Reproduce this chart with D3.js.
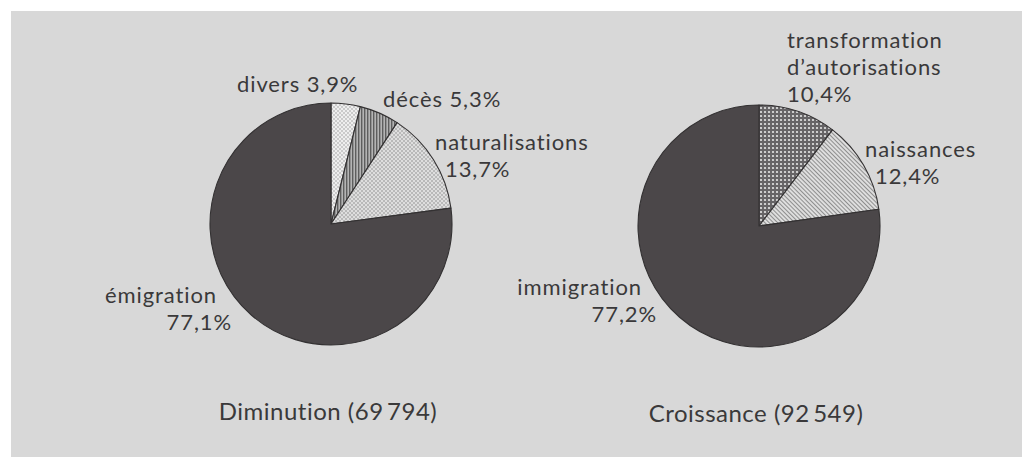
<!DOCTYPE html>
<html>
<head>
<meta charset="utf-8">
<script src="https://cdn.jsdelivr.net/npm/d3@7"></script>
<style>
  html, body { margin: 0; padding: 0; background: #ffffff; }
  svg { display: block; }
  text { font-family: Lato, "Open Sans", sans-serif; fill: #3a393a; font-variant-ligatures: none; font-feature-settings: "liga" 0; }
</style>
</head>
<body>
<svg id="chart" width="1022" height="457"></svg>
<script>
// Foreign population change: decrease vs. increase, share of each component (%)
const diminutionCategories = ["divers", "décès", "naturalisations", "émigration"];
const diminutionValues = [3.9, 5.3, 13.7, 77.1];
const diminutionLabels = [["divers 3,9%"], ["décès 5,3%"], ["naturalisations", "13,7%"], ["émigration", "77,1%"]];
const diminutionTitle = "Diminution (69\u2009794)";

const croissanceCategories = ["transformation d’autorisations", "naissances", "immigration"];
const croissanceValues = [10.4, 12.4, 77.2];
const croissanceLabels = [["transformation", "d’autorisations", "10,4%"], ["naissances", "12,4%"], ["immigration", "77,2%"]];
const croissanceTitle = "Croissance (92\u2009549)";

// fill style per slice (pattern ids defined below)
const diminutionFills = ["url(#dots-sparse)", "url(#vlines)", "url(#dots-fine)", "#4b4749"];
const croissanceFills = ["url(#screen-dark)", "url(#diag)", "#4b4749"];

// label placement: [x, y, anchor] for the first line
const diminutionLabelPos = [[237, 92, "start"], [383, 107, "start"], [435, 150, "start"], [217, 303, "end"]];
const croissanceLabelPos = [[787, 48, "start"], [865, 157, "start"], [642, 295, "end"]];

const svg = d3.select("#chart");

// scanned-page grey panel
svg.append("rect").attr("x", 11).attr("y", 11).attr("width", 1011).attr("height", 446).attr("fill", "#d8d8d8");

// hatching / screen patterns
const defs = svg.append("defs");
{
  const p = defs.append("pattern").attr("id", "dots-sparse").attr("patternUnits", "userSpaceOnUse").attr("width", 4).attr("height", 4);
  p.append("rect").attr("width", 4).attr("height", 4).attr("fill", "#eeeeee");
  p.append("circle").attr("cx", 1).attr("cy", 1).attr("r", 0.7).attr("fill", "#8c8c8c");
  p.append("circle").attr("cx", 3).attr("cy", 3).attr("r", 0.7).attr("fill", "#8c8c8c");
}
{
  const p = defs.append("pattern").attr("id", "vlines").attr("patternUnits", "userSpaceOnUse").attr("width", 3).attr("height", 3);
  p.append("rect").attr("width", 3).attr("height", 3).attr("fill", "#b4b4b4");
  p.append("rect").attr("x", 0).attr("width", 1.4).attr("height", 3).attr("fill", "#5e5e5e");
}
{
  const p = defs.append("pattern").attr("id", "dots-fine").attr("patternUnits", "userSpaceOnUse").attr("width", 4).attr("height", 4);
  p.append("rect").attr("width", 4).attr("height", 4).attr("fill", "#dedede");
  p.append("circle").attr("cx", 1).attr("cy", 1).attr("r", 0.8).attr("fill", "#8a8a8a");
  p.append("circle").attr("cx", 3).attr("cy", 3).attr("r", 0.8).attr("fill", "#8a8a8a");
}
{
  const p = defs.append("pattern").attr("id", "screen-dark").attr("patternUnits", "userSpaceOnUse").attr("width", 4).attr("height", 4);
  p.append("rect").attr("width", 4).attr("height", 4).attr("fill", "#666466");
  p.append("circle").attr("cx", 2).attr("cy", 2).attr("r", 1.1).attr("fill", "#e6e6e6");
}
{
  const p = defs.append("pattern").attr("id", "diag").attr("patternUnits", "userSpaceOnUse").attr("width", 3).attr("height", 3)
    .attr("patternTransform", "rotate(-45)");
  p.append("rect").attr("width", 3).attr("height", 3).attr("fill", "#dedede");
  p.append("rect").attr("width", 1).attr("height", 3).attr("fill", "#8e8e8e");
}

const radius = 121;
const arc = d3.arc().innerRadius(0).outerRadius(radius);
const pie = d3.pie().sort(null).value(d => d.value).startAngle(0).endAngle(2 * Math.PI);

function drawPie(cx, cy, cats, vals, fills, labels, labelPos, title, titleY) {
  const data = cats.map((c, i) => ({ cat: c, value: vals[i], fill: fills[i], label: labels[i], pos: labelPos[i] }));
  const g = svg.append("g").attr("transform", `translate(${cx},${cy})`);
  g.selectAll("path.slice")
    .data(pie(data))
    .join("path")
    .attr("class", "slice")
    .attr("d", arc)
    .attr("fill", d => d.data.fill)
    .attr("stroke", "#333132")
    .attr("stroke-width", 1.1)
    .attr("stroke-linejoin", "round");

  // slice labels: name then share on the next line
  data.forEach(d => {
    const [x, y, anchor] = d.pos;
    const t = svg.append("text")
      .attr("x", x).attr("y", y)
      .attr("text-anchor", anchor)
      .attr("font-size", 22)
      .attr("letter-spacing", 0.9);
    d.label.forEach((line, k) => {
      let lx = x;
      if (d.label.length === 2 && k === 1) {
        // the share line is shifted slightly right of the name
        lx = anchor === "end" ? x + 15 : x + 10;
      }
      t.append("tspan").attr("x", lx).attr("dy", k === 0 ? 0 : 27).text(line);
    });
  });

  svg.append("text")
    .attr("x", cx - 3).attr("y", titleY)
    .attr("text-anchor", "middle")
    .attr("font-size", 24)
    .attr("letter-spacing", 0.5)
    .text(title);
}

drawPie(331, 224, diminutionCategories, diminutionValues, diminutionFills, diminutionLabels, diminutionLabelPos, diminutionTitle, 420);
drawPie(759, 226, croissanceCategories, croissanceValues, croissanceFills, croissanceLabels, croissanceLabelPos, croissanceTitle, 422);
</script>
</body>
</html>
